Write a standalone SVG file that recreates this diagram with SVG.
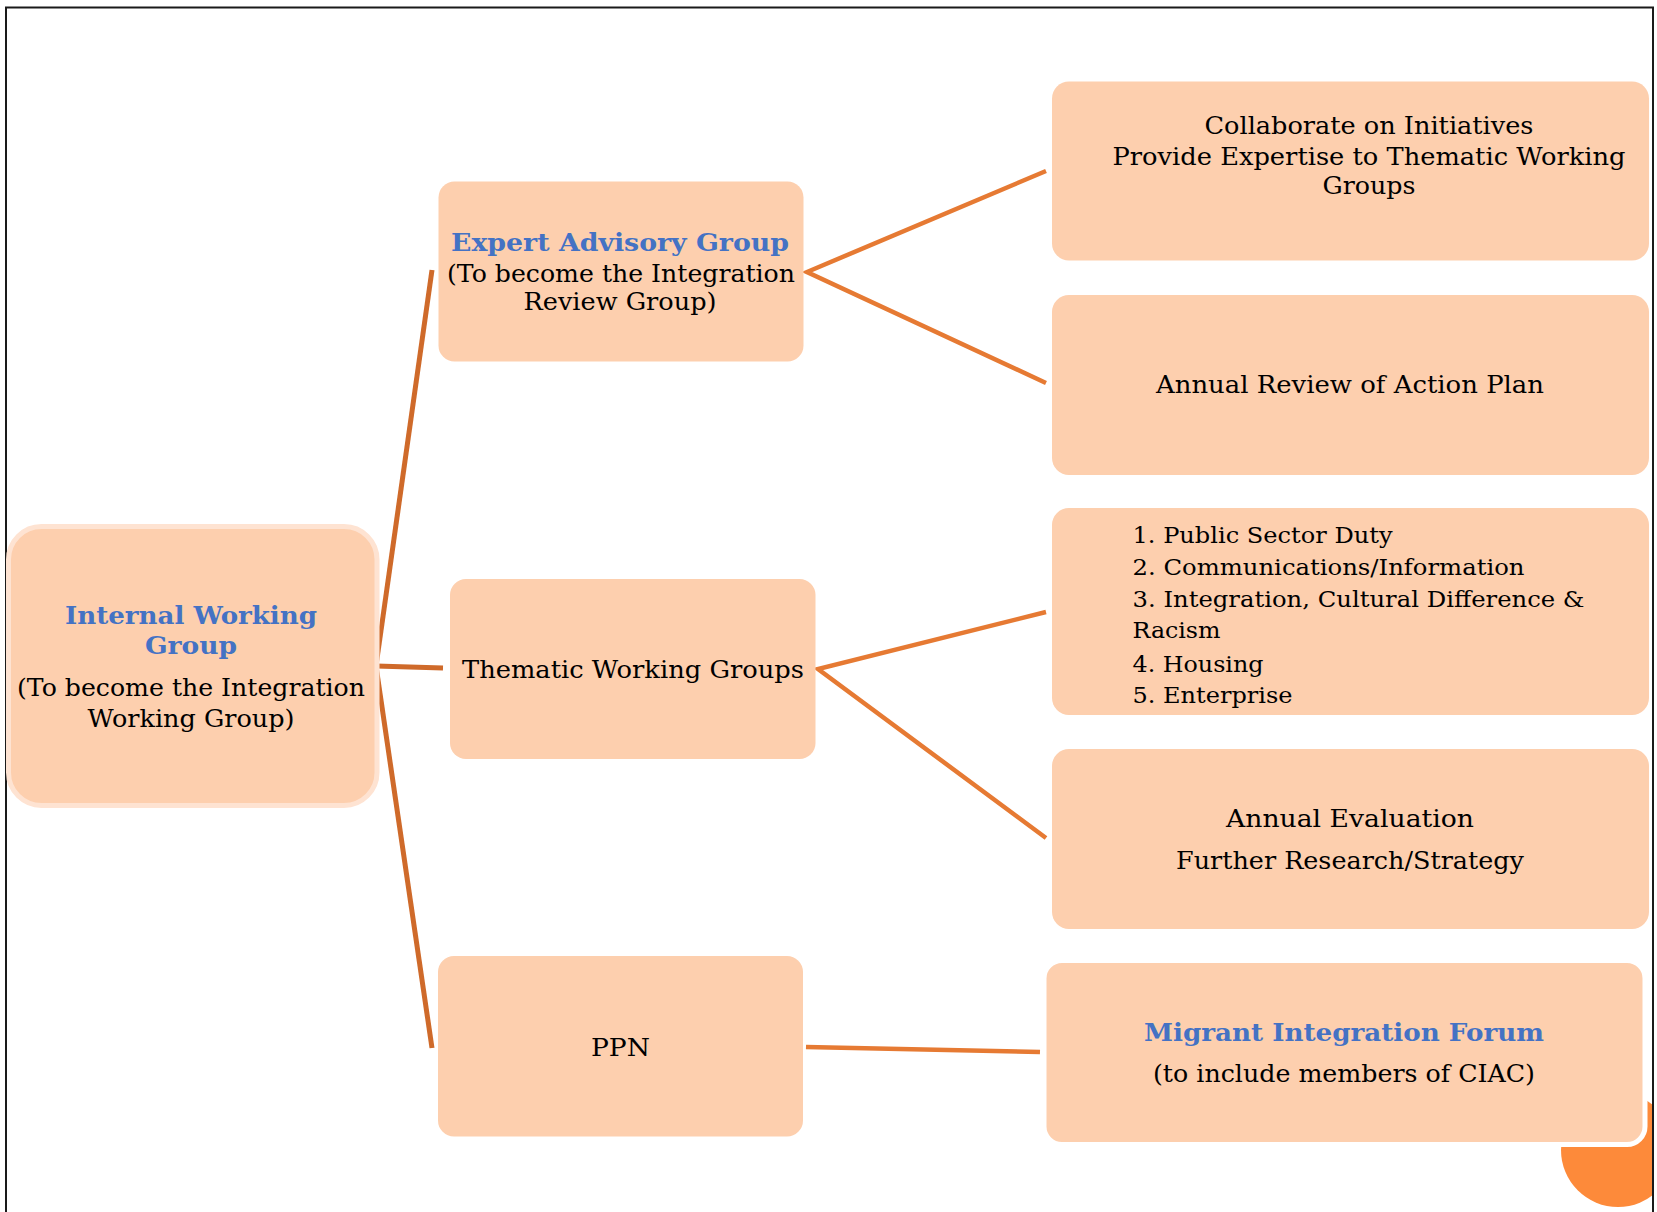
<svg xmlns="http://www.w3.org/2000/svg" width="1657" height="1212" viewBox="0 0 1657 1212">
<defs>
<style>
.box{fill:#FDCFAE}
.t{font-family:"DejaVu Serif","Liberation Serif",serif;font-size:25px;fill:#000;text-anchor:middle}
.l{font-family:"DejaVu Serif","Liberation Serif",serif;font-size:23px;fill:#000}
.h{font-family:"DejaVu Serif","Liberation Serif",serif;font-size:25px;font-weight:bold;fill:#4472C4;text-anchor:middle}
.fan{stroke:#CF6A2A;stroke-width:5;fill:none;stroke-linecap:butt}
.con{stroke:#E67A33;stroke-width:4.5;fill:none}
</style>
<clipPath id="frame"><rect x="0" y="0" width="1653" height="1212"/></clipPath>
</defs>
<rect x="0" y="0" width="1657" height="1212" fill="#FFFFFF"/>
<circle cx="1618" cy="1150" r="57" fill="#FD8A3A" clip-path="url(#frame)"/>
<rect x="6" y="7.5" width="1647" height="1220" fill="none" stroke="#1a1a1a" stroke-width="2"/>

<g id="connectors">
<path class="fan" d="M376 666 L432 270"/>
<path class="fan" d="M376 666 L443 668"/>
<path class="fan" d="M376 666 L432 1048"/>
<path class="con" d="M1046 171 L807 272 L1046 383"/>
<path class="con" d="M1046 612 L818 669 L1046 838"/>
<path class="con" d="M806 1047 L1040 1052"/>
</g>

<g id="iwg">
<rect x="8.5" y="526.5" width="368.5" height="279" rx="33" fill="#FDCFAE" stroke="#FEE3D2" stroke-width="5"/>
<text class="h" x="191" y="624" textLength="252" lengthAdjust="spacingAndGlyphs">Internal Working</text>
<text class="h" x="191" y="654" textLength="92" lengthAdjust="spacingAndGlyphs">Group</text>
<text class="t" x="191" y="696" textLength="348" lengthAdjust="spacingAndGlyphs">(To become the Integration</text>
<text class="t" x="191" y="727" textLength="207" lengthAdjust="spacingAndGlyphs">Working Group)</text>
</g>

<g id="eag">
<rect class="box" x="438.5" y="181.5" width="365" height="180" rx="16"/>
<text class="h" x="620" y="250.5" textLength="338" lengthAdjust="spacingAndGlyphs">Expert Advisory Group</text>
<text class="t" x="621" y="281.5" textLength="348" lengthAdjust="spacingAndGlyphs">(To become the Integration</text>
<text class="t" x="620" y="310" textLength="193" lengthAdjust="spacingAndGlyphs">Review Group)</text>
</g>

<g id="twg">
<rect class="box" x="450" y="579" width="365.5" height="180" rx="16"/>
<text class="t" x="633" y="678" textLength="342" lengthAdjust="spacingAndGlyphs">Thematic Working Groups</text>
</g>

<g id="ppn">
<rect class="box" x="438" y="956" width="365" height="180.5" rx="16"/>
<text class="t" x="620.5" y="1055.5" textLength="59" lengthAdjust="spacingAndGlyphs">PPN</text>
</g>

<g id="collab">
<rect class="box" x="1052" y="81.5" width="597" height="179" rx="17"/>
<text class="t" x="1369" y="134" textLength="329" lengthAdjust="spacingAndGlyphs">Collaborate on Initiatives</text>
<text class="t" x="1369" y="165" textLength="513" lengthAdjust="spacingAndGlyphs">Provide Expertise to Thematic Working</text>
<text class="t" x="1369" y="194" textLength="93" lengthAdjust="spacingAndGlyphs">Groups</text>
</g>

<g id="review">
<rect class="box" x="1052" y="295" width="597" height="180" rx="17"/>
<text class="t" x="1350" y="392.5" textLength="388" lengthAdjust="spacingAndGlyphs">Annual Review of Action Plan</text>
</g>

<g id="themes">
<rect class="box" x="1052" y="508" width="597" height="207" rx="17"/>
<text class="l" x="1132.5" y="543.3" textLength="260" lengthAdjust="spacingAndGlyphs">1. Public Sector Duty</text>
<text class="l" x="1132.5" y="575" textLength="392" lengthAdjust="spacingAndGlyphs">2. Communications/Information</text>
<text class="l" x="1132.5" y="607.3" textLength="452" lengthAdjust="spacingAndGlyphs">3. Integration, Cultural Difference &amp;</text>
<text class="l" x="1132.5" y="638.3" textLength="88" lengthAdjust="spacingAndGlyphs">Racism</text>
<text class="l" x="1132.5" y="671.7" textLength="131" lengthAdjust="spacingAndGlyphs">4. Housing</text>
<text class="l" x="1132.5" y="702.7" textLength="160" lengthAdjust="spacingAndGlyphs">5. Enterprise</text>
</g>

<g id="evaluation">
<rect class="box" x="1052" y="749" width="597" height="180" rx="17"/>
<text class="t" x="1350" y="827.3" textLength="248" lengthAdjust="spacingAndGlyphs">Annual Evaluation</text>
<text class="t" x="1350" y="869" textLength="348" lengthAdjust="spacingAndGlyphs">Further Research/Strategy</text>
</g>

<g id="mif">
<rect class="box" x="1044" y="960.5" width="601" height="184" rx="18" stroke="#FFFFFF" stroke-width="5"/>
<text class="h" x="1344" y="1040.7" textLength="400" lengthAdjust="spacingAndGlyphs">Migrant Integration Forum</text>
<text class="t" x="1344" y="1081.7" textLength="382" lengthAdjust="spacingAndGlyphs">(to include members of CIAC)</text>
</g>
</svg>
